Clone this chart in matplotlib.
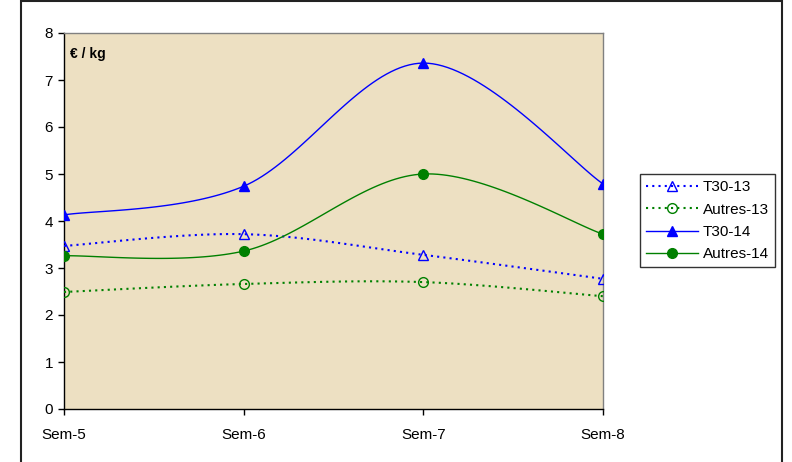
import numpy as np
import matplotlib
matplotlib.use("Agg")
import matplotlib.pyplot as plt
from matplotlib.patches import Rectangle

categories = ["Sem-5", "Sem-6", "Sem-7", "Sem-8"]
t30_13 = [3.47, 3.72, 3.28, 2.77]
autres_13 = [2.49, 2.66, 2.70, 2.40]
t30_14 = [4.13, 4.74, 7.36, 4.79]
autres_14 = [3.26, 3.36, 5.00, 3.72]
y_ticks = [0, 1, 2, 3, 4, 5, 6, 7, 8]
unit_label = "€ / kg"

plt.rcParams['font.family'] = ['Liberation Sans', 'DejaVu Sans']


def smooth(xs, ys, n=40):
    """Excel-like smoothed line through the points (Catmull-Rom Bezier)."""
    xs = np.asarray(xs, float)
    ys = np.asarray(ys, float)
    pts = np.column_stack([xs, ys])
    out = []
    for i in range(len(pts) - 1):
        p0 = pts[i - 1] if i > 0 else pts[i]
        p1 = pts[i]
        p2 = pts[i + 1]
        p3 = pts[i + 2] if i + 2 < len(pts) else pts[i + 1]
        c1 = p1 + (p2 - p0) / 6.0
        c2 = p2 - (p3 - p1) / 6.0
        t = np.linspace(0, 1, n)[:, None]
        seg = ((1 - t) ** 3) * p1 + 3 * ((1 - t) ** 2) * t * c1 + 3 * (1 - t) * t ** 2 * c2 + t ** 3 * p2
        if i > 0:
            seg = seg[1:]
        out.append(seg)
    out = np.vstack(out)
    return out[:, 0], out[:, 1]


fig = plt.figure(figsize=(7.92, 4.62), dpi=100)
fig.patch.set_facecolor("white")

W, H = 792.0, 462.0
ax = fig.add_axes([64 / W, 1 - 409 / H, (603 - 64) / W, (409 - 33) / H])
ax.set_facecolor("#EDE0C2")

x = np.arange(len(categories))

series = [
    (t30_13, "T30-13", "#0000FF", (0, (1, 2)), 1.5, "^", "none"),
    (autres_13, "Autres-13", "#008000", (0, (1, 2)), 1.5, "o", "none"),
    (t30_14, "T30-14", "#0000FF", "-", 1.0, "^", "full"),
    (autres_14, "Autres-14", "#008000", "-", 1.0, "o", "full"),
]

handles = []
for vals, name, col, ls, lw, mk, fs in series:
    sx, sy = smooth(x, vals)
    ax.plot(sx, sy, color=col, linestyle=ls, linewidth=lw, zorder=3)
    ax.plot(x, vals, linestyle="none", marker=mk, markersize=7,
            markerfacecolor=(col if fs == "full" else "none"),
            markeredgecolor=col, markeredgewidth=1.0, zorder=4)
    h, = ax.plot([], [], color=col, linestyle=ls, linewidth=lw, marker=mk,
                 markersize=7, markerfacecolor=(col if fs == "full" else "none"),
                 markeredgecolor=col, markeredgewidth=1.0)
    handles.append(h)

ax.set_xlim(0, len(categories) - 1)
ax.set_ylim(0, 8)
ax.set_xticks(x)
ax.set_xticklabels(categories)
ax.set_yticks(y_ticks)
ax.tick_params(axis="both", direction="out", length=4, width=1, color="black",
               labelsize=11, labelcolor="black")
ax.tick_params(axis="x", pad=10)
ax.tick_params(axis="y", pad=4)

for side in ["top", "right"]:
    ax.spines[side].set_color("#808080")
    ax.spines[side].set_linewidth(1)
for side in ["left", "bottom"]:
    ax.spines[side].set_color("black")
    ax.spines[side].set_linewidth(1)

ax.text(0.012, 0.962, unit_label, transform=ax.transAxes, fontsize=10,
        fontweight="bold", ha="left", va="top", color="black")

leg = fig.legend(handles=handles, labels=[s[1] for s in series],
                 loc="upper left", bbox_to_anchor=(640 / W, 1 - 174 / H),
                 frameon=True, fancybox=False, shadow=False,
                 fontsize=11, handlelength=3.4, handletextpad=0.3,
                 borderpad=0.4, labelspacing=0.55, borderaxespad=0)
leg.get_frame().set_edgecolor("black")
leg.get_frame().set_linewidth(1)

# outer chart border
border = Rectangle((21 / W, -0.05), (782 - 21) / W, 1 - 1 / H + 0.05,
                   transform=fig.transFigure, fill=False, edgecolor="#222222",
                   linewidth=1.5, clip_on=False)
fig.patches.append(border)

fig.savefig("out.png", dpi=100)
